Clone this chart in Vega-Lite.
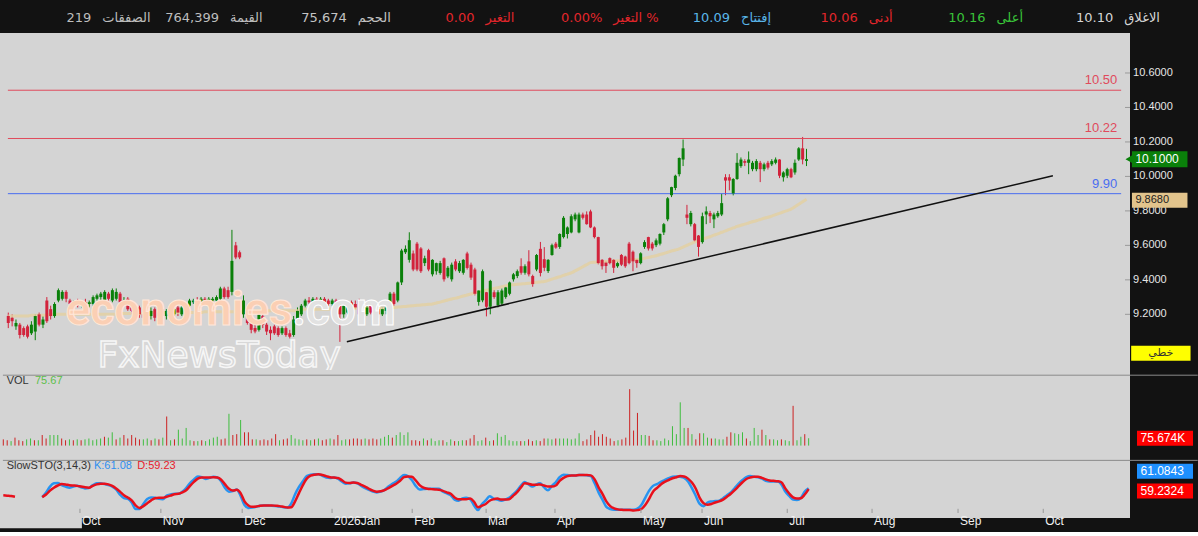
{
"$schema": "https://vega.github.io/schema/vega-lite/v6.json",
"background": "#121212",
"padding": {"left": 0, "top": 0, "right": 0, "bottom": 3},
"spacing": 0,
"bounds": "flush",
"config": {"view": {"stroke": null}, "font": "Liberation Sans", "text": {"font": "Liberation Sans"}},
"resolve": {"scale": {"color": "independent"}},
"datasets": {
"one": [{}],
"header": [
{"item":"الصفقات","value":"219"},{"item":"القيمة","value":"764,399"},{"item":"الحجم","value":"75,674"},{"item":"التغير","value":"0.00"},{"item":"التغير %","value":"0.00%"},{"item":"إفتتاح","value":"10.09"},{"item":"أدنى","value":"10.06"},{"item":"أعلى","value":"10.16"},{"item":"الاغلاق","value":"10.10"}
],
"levels": [{"p":10.5,"lab":"10.50","kind":"r"},{"p":10.22,"lab":"10.22","kind":"r"},{"p":9.9,"lab":"9.90","kind":"b"}],
"yticks": [{"p":9.2},{"p":9.4},{"p":9.6},{"p":9.8},{"p":10.0},{"p":10.2},{"p":10.4},{"p":10.6}],
"months": [{"m":19.7,"lab":"Oct"},{"m":40.5,"lab":"Nov"},{"m":61.4,"lab":"Dec"},{"m":84.5,"lab":"2026Jan"},{"m":105.1,"lab":"Feb"},{"m":124.1,"lab":"Mar"},{"m":141.8,"lab":"Apr"},{"m":163.9,"lab":"May"},{"m":179.6,"lab":"Jun"},{"m":201.5,"lab":"Jul"},{"m":223.3,"lab":"Aug"},{"m":245.4,"lab":"Sep"},{"m":267.3,"lab":"Oct"}],
"trend": [{"i":87.8,"p":9.041},{"i":270.9,"p":10.004}],
"candles": [
{"i":0,"o":9.19,"h":9.21,"l":9.12,"c":9.15,"v":64,"ma":9.19,"k":null,"d":42},
{"i":1,"o":9.18,"h":9.2,"l":9.13,"c":9.16,"v":55,"ma":9.19,"k":null,"d":41},
{"i":2,"o":9.13,"h":9.17,"l":9.11,"c":9.15,"v":46,"ma":9.19,"k":null,"d":40},
{"i":3,"o":9.14,"h":9.15,"l":9.06,"c":9.08,"v":82,"ma":9.19,"k":null,"d":38},
{"i":4,"o":9.12,"h":9.13,"l":9.07,"c":9.08,"v":55,"ma":9.19,"k":null,"d":null},
{"i":5,"o":9.13,"h":9.14,"l":9.06,"c":9.07,"v":46,"ma":9.19,"k":null,"d":null},
{"i":6,"o":9.09,"h":9.16,"l":9.08,"c":9.14,"v":64,"ma":9.195,"k":null,"d":null},
{"i":7,"o":9.1,"h":9.2,"l":9.05,"c":9.19,"v":73,"ma":9.195,"k":null,"d":null},
{"i":8,"o":9.2,"h":9.21,"l":9.13,"c":9.14,"v":55,"ma":9.195,"k":null,"d":null},
{"i":9,"o":9.14,"h":9.19,"l":9.12,"c":9.17,"v":55,"ma":9.195,"k":null,"d":null},
{"i":10,"o":9.28,"h":9.3,"l":9.15,"c":9.16,"v":109,"ma":9.195,"k":37,"d":37},
{"i":11,"o":9.23,"h":9.25,"l":9.17,"c":9.19,"v":73,"ma":9.2,"k":50,"d":44},
{"i":12,"o":9.19,"h":9.27,"l":9.18,"c":9.26,"v":109,"ma":9.2,"k":66,"d":55},
{"i":13,"o":9.28,"h":9.35,"l":9.27,"c":9.34,"v":109,"ma":9.2,"k":75,"d":63},
{"i":14,"o":9.29,"h":9.34,"l":9.28,"c":9.33,"v":109,"ma":9.2,"k":76,"d":69},
{"i":15,"o":9.33,"h":9.34,"l":9.27,"c":9.29,"v":73,"ma":9.2,"k":70,"d":73},
{"i":16,"o":9.28,"h":9.29,"l":9.25,"c":9.26,"v":55,"ma":9.2,"k":66,"d":72},
{"i":17,"o":9.26,"h":9.28,"l":9.24,"c":9.27,"v":64,"ma":9.2,"k":63,"d":70},
{"i":18,"o":9.28,"h":9.29,"l":9.24,"c":9.25,"v":55,"ma":9.2,"k":66,"d":69},
{"i":19,"o":9.25,"h":9.28,"l":9.24,"c":9.27,"v":64,"ma":9.2,"k":68,"d":68},
{"i":20,"o":9.27,"h":9.29,"l":9.25,"c":9.26,"v":55,"ma":9.2,"k":64,"d":66},
{"i":21,"o":9.26,"h":9.28,"l":9.24,"c":9.27,"v":64,"ma":9.2,"k":61,"d":64},
{"i":22,"o":9.26,"h":9.31,"l":9.25,"c":9.3,"v":73,"ma":9.2,"k":62,"d":63},
{"i":23,"o":9.29,"h":9.32,"l":9.28,"c":9.31,"v":55,"ma":9.2,"k":70,"d":68},
{"i":24,"o":9.3,"h":9.33,"l":9.28,"c":9.32,"v":64,"ma":9.2,"k":75,"d":72},
{"i":25,"o":9.28,"h":9.34,"l":9.27,"c":9.33,"v":73,"ma":9.2,"k":75,"d":74},
{"i":26,"o":9.32,"h":9.33,"l":9.28,"c":9.29,"v":91,"ma":9.2,"k":73,"d":74},
{"i":27,"o":9.28,"h":9.35,"l":9.27,"c":9.34,"v":82,"ma":9.2,"k":70,"d":72},
{"i":28,"o":9.29,"h":9.35,"l":9.28,"c":9.33,"v":137,"ma":9.2,"k":66,"d":68},
{"i":29,"o":9.32,"h":9.33,"l":9.26,"c":9.27,"v":64,"ma":9.205,"k":58,"d":61},
{"i":30,"o":9.27,"h":9.3,"l":9.25,"c":9.28,"v":82,"ma":9.205,"k":44,"d":52},
{"i":31,"o":9.29,"h":9.3,"l":9.22,"c":9.23,"v":109,"ma":9.205,"k":34,"d":42},
{"i":32,"o":9.24,"h":9.26,"l":9.2,"c":9.22,"v":73,"ma":9.205,"k":32,"d":36},
{"i":33,"o":9.23,"h":9.24,"l":9.18,"c":9.19,"v":109,"ma":9.205,"k":22,"d":28},
{"i":34,"o":9.24,"h":9.25,"l":9.18,"c":9.2,"v":82,"ma":9.205,"k":4,"d":14},
{"i":35,"o":9.2,"h":9.23,"l":9.16,"c":9.18,"v":64,"ma":9.205,"k":4,"d":7},
{"i":36,"o":9.18,"h":9.24,"l":9.17,"c":9.23,"v":64,"ma":9.205,"k":18,"d":12},
{"i":37,"o":9.19,"h":9.24,"l":9.17,"c":9.22,"v":73,"ma":9.21,"k":32,"d":20},
{"i":38,"o":9.23,"h":9.24,"l":9.16,"c":9.18,"v":55,"ma":9.21,"k":36,"d":28},
{"i":39,"o":9.19,"h":9.23,"l":9.18,"c":9.21,"v":73,"ma":9.21,"k":35,"d":34},
{"i":40,"o":9.23,"h":9.24,"l":9.18,"c":9.19,"v":64,"ma":9.21,"k":32,"d":35},
{"i":41,"o":9.19,"h":9.23,"l":9.17,"c":9.22,"v":82,"ma":9.21,"k":31,"d":35},
{"i":42,"o":9.24,"h":9.25,"l":9.16,"c":9.2,"v":300,"ma":9.21,"k":41,"d":38},
{"i":43,"o":9.2,"h":9.24,"l":9.19,"c":9.23,"v":55,"ma":9.21,"k":44,"d":41},
{"i":44,"o":9.24,"h":9.25,"l":9.19,"c":9.21,"v":64,"ma":9.21,"k":46,"d":45},
{"i":45,"o":9.2,"h":9.25,"l":9.19,"c":9.24,"v":164,"ma":9.21,"k":46,"d":46},
{"i":46,"o":9.23,"h":9.26,"l":9.22,"c":9.25,"v":73,"ma":9.21,"k":52,"d":50},
{"i":47,"o":9.25,"h":9.29,"l":9.24,"c":9.28,"v":182,"ma":9.21,"k":62,"d":56},
{"i":48,"o":9.27,"h":9.29,"l":9.26,"c":9.28,"v":55,"ma":9.21,"k":76,"d":68},
{"i":49,"o":9.28,"h":9.3,"l":9.26,"c":9.27,"v":46,"ma":9.21,"k":86,"d":79},
{"i":50,"o":9.27,"h":9.3,"l":9.26,"c":9.29,"v":46,"ma":9.21,"k":94,"d":88},
{"i":51,"o":9.29,"h":9.3,"l":9.26,"c":9.28,"v":55,"ma":9.215,"k":92,"d":91},
{"i":52,"o":9.27,"h":9.3,"l":9.26,"c":9.29,"v":46,"ma":9.215,"k":87,"d":91},
{"i":53,"o":9.28,"h":9.3,"l":9.27,"c":9.29,"v":64,"ma":9.215,"k":90,"d":91},
{"i":54,"o":9.28,"h":9.31,"l":9.27,"c":9.3,"v":82,"ma":9.215,"k":93,"d":92},
{"i":55,"o":9.29,"h":9.36,"l":9.28,"c":9.35,"v":91,"ma":9.215,"k":91,"d":91},
{"i":56,"o":9.35,"h":9.36,"l":9.29,"c":9.3,"v":64,"ma":9.215,"k":81,"d":85},
{"i":57,"o":9.34,"h":9.36,"l":9.29,"c":9.3,"v":73,"ma":9.215,"k":62,"d":72},
{"i":58,"o":9.33,"h":9.69,"l":9.31,"c":9.51,"v":328,"ma":9.215,"k":52,"d":60},
{"i":59,"o":9.6,"h":9.62,"l":9.52,"c":9.53,"v":109,"ma":9.215,"k":54,"d":55},
{"i":60,"o":9.56,"h":9.57,"l":9.52,"c":9.53,"v":118,"ma":9.215,"k":58,"d":57},
{"i":61,"o":9.2,"h":9.31,"l":9.18,"c":9.28,"v":264,"ma":9.215,"k":40,"d":48},
{"i":62,"o":9.22,"h":9.23,"l":9.14,"c":9.15,"v":137,"ma":9.215,"k":15,"d":25},
{"i":63,"o":9.16,"h":9.17,"l":9.09,"c":9.11,"v":137,"ma":9.215,"k":7,"d":14},
{"i":64,"o":9.12,"h":9.15,"l":9.09,"c":9.1,"v":64,"ma":9.22,"k":8,"d":10},
{"i":65,"o":9.11,"h":9.22,"l":9.1,"c":9.2,"v":64,"ma":9.22,"k":10,"d":11},
{"i":66,"o":9.19,"h":9.2,"l":9.12,"c":9.14,"v":55,"ma":9.22,"k":13,"d":13},
{"i":67,"o":9.14,"h":9.15,"l":9.08,"c":9.1,"v":64,"ma":9.22,"k":14,"d":14},
{"i":68,"o":9.11,"h":9.13,"l":9.05,"c":9.09,"v":55,"ma":9.22,"k":14,"d":14},
{"i":69,"o":9.13,"h":9.14,"l":9.08,"c":9.09,"v":73,"ma":9.22,"k":13,"d":14},
{"i":70,"o":9.12,"h":9.13,"l":9.07,"c":9.08,"v":118,"ma":9.22,"k":12,"d":13},
{"i":71,"o":9.09,"h":9.13,"l":9.08,"c":9.12,"v":55,"ma":9.22,"k":11,"d":12},
{"i":72,"o":9.12,"h":9.13,"l":9.07,"c":9.08,"v":64,"ma":9.22,"k":9,"d":10},
{"i":73,"o":9.09,"h":9.11,"l":9.06,"c":9.07,"v":73,"ma":9.22,"k":8,"d":8},
{"i":74,"o":9.08,"h":9.19,"l":9.07,"c":9.17,"v":109,"ma":9.22,"k":19,"d":9},
{"i":75,"o":9.16,"h":9.24,"l":9.14,"c":9.22,"v":73,"ma":9.22,"k":45,"d":25},
{"i":76,"o":9.2,"h":9.26,"l":9.19,"c":9.25,"v":64,"ma":9.23,"k":65,"d":48},
{"i":77,"o":9.25,"h":9.29,"l":9.24,"c":9.28,"v":55,"ma":9.23,"k":81,"d":70},
{"i":78,"o":9.28,"h":9.3,"l":9.26,"c":9.27,"v":64,"ma":9.23,"k":95,"d":88},
{"i":79,"o":9.27,"h":9.3,"l":9.26,"c":9.29,"v":55,"ma":9.23,"k":99,"d":96},
{"i":80,"o":9.29,"h":9.3,"l":9.26,"c":9.27,"v":64,"ma":9.23,"k":100,"d":99},
{"i":81,"o":9.28,"h":9.3,"l":9.27,"c":9.29,"v":73,"ma":9.23,"k":100,"d":100},
{"i":82,"o":9.29,"h":9.3,"l":9.26,"c":9.27,"v":55,"ma":9.23,"k":96,"d":98},
{"i":83,"o":9.28,"h":9.29,"l":9.25,"c":9.26,"v":64,"ma":9.23,"k":91,"d":95},
{"i":84,"o":9.26,"h":9.29,"l":9.25,"c":9.28,"v":73,"ma":9.23,"k":90,"d":92},
{"i":85,"o":9.28,"h":9.29,"l":9.24,"c":9.25,"v":64,"ma":9.23,"k":91,"d":91},
{"i":86,"o":9.26,"h":9.27,"l":9.04,"c":9.2,"v":109,"ma":9.23,"k":88,"d":90},
{"i":87,"o":9.2,"h":9.26,"l":9.18,"c":9.25,"v":55,"ma":9.23,"k":80,"d":84},
{"i":88,"o":9.21,"h":9.26,"l":9.2,"c":9.25,"v":64,"ma":9.23,"k":74,"d":77},
{"i":89,"o":9.27,"h":9.28,"l":9.22,"c":9.24,"v":64,"ma":9.235,"k":75,"d":76},
{"i":90,"o":9.26,"h":9.28,"l":9.23,"c":9.24,"v":73,"ma":9.235,"k":77,"d":77},
{"i":91,"o":9.28,"h":9.29,"l":9.17,"c":9.2,"v":73,"ma":9.235,"k":75,"d":76},
{"i":92,"o":9.24,"h":9.26,"l":9.16,"c":9.18,"v":64,"ma":9.235,"k":68,"d":71},
{"i":93,"o":9.2,"h":9.25,"l":9.19,"c":9.24,"v":73,"ma":9.235,"k":62,"d":66},
{"i":94,"o":9.25,"h":9.26,"l":9.2,"c":9.21,"v":64,"ma":9.235,"k":57,"d":60},
{"i":95,"o":9.22,"h":9.24,"l":9.18,"c":9.19,"v":73,"ma":9.235,"k":52,"d":55},
{"i":96,"o":9.23,"h":9.24,"l":9.18,"c":9.2,"v":64,"ma":9.235,"k":50,"d":52},
{"i":97,"o":9.2,"h":9.24,"l":9.19,"c":9.23,"v":73,"ma":9.235,"k":52,"d":53},
{"i":98,"o":9.22,"h":9.25,"l":9.2,"c":9.24,"v":91,"ma":9.235,"k":57,"d":56},
{"i":99,"o":9.27,"h":9.33,"l":9.26,"c":9.32,"v":109,"ma":9.235,"k":66,"d":62},
{"i":100,"o":9.32,"h":9.33,"l":9.25,"c":9.26,"v":82,"ma":9.24,"k":74,"d":68},
{"i":101,"o":9.28,"h":9.39,"l":9.27,"c":9.385,"v":109,"ma":9.242,"k":80,"d":74},
{"i":102,"o":9.385,"h":9.58,"l":9.37,"c":9.57,"v":137,"ma":9.244,"k":90,"d":82},
{"i":103,"o":9.56,"h":9.6,"l":9.55,"c":9.58,"v":109,"ma":9.246,"k":98,"d":92},
{"i":104,"o":9.516,"h":9.676,"l":9.5,"c":9.63,"v":137,"ma":9.248,"k":95,"d":94},
{"i":105,"o":9.553,"h":9.57,"l":9.45,"c":9.46,"v":55,"ma":9.25,"k":84,"d":93},
{"i":106,"o":9.61,"h":9.62,"l":9.45,"c":9.46,"v":55,"ma":9.252,"k":68,"d":83},
{"i":107,"o":9.582,"h":9.59,"l":9.44,"c":9.45,"v":46,"ma":9.254,"k":58,"d":70},
{"i":108,"o":9.497,"h":9.54,"l":9.48,"c":9.525,"v":73,"ma":9.256,"k":59,"d":63},
{"i":109,"o":9.572,"h":9.58,"l":9.45,"c":9.46,"v":55,"ma":9.258,"k":60,"d":60},
{"i":110,"o":9.432,"h":9.52,"l":9.42,"c":9.516,"v":73,"ma":9.26,"k":60,"d":59},
{"i":111,"o":9.45,"h":9.5,"l":9.43,"c":9.497,"v":46,"ma":9.266,"k":60,"d":58},
{"i":112,"o":9.44,"h":9.51,"l":9.43,"c":9.497,"v":55,"ma":9.271,"k":60,"d":57},
{"i":113,"o":9.525,"h":9.53,"l":9.39,"c":9.403,"v":55,"ma":9.277,"k":52,"d":54},
{"i":114,"o":9.42,"h":9.48,"l":9.41,"c":9.47,"v":36,"ma":9.283,"k":47,"d":50},
{"i":115,"o":9.403,"h":9.5,"l":9.39,"c":9.488,"v":64,"ma":9.289,"k":42,"d":46},
{"i":116,"o":9.507,"h":9.52,"l":9.45,"c":9.46,"v":46,"ma":9.294,"k":30,"d":36},
{"i":117,"o":9.45,"h":9.51,"l":9.44,"c":9.497,"v":46,"ma":9.3,"k":27,"d":31},
{"i":118,"o":9.441,"h":9.52,"l":9.43,"c":9.516,"v":55,"ma":9.306,"k":33,"d":31},
{"i":119,"o":9.553,"h":9.563,"l":9.46,"c":9.469,"v":55,"ma":9.312,"k":35,"d":31},
{"i":120,"o":9.488,"h":9.5,"l":9.4,"c":9.413,"v":73,"ma":9.318,"k":31,"d":33},
{"i":121,"o":9.46,"h":9.47,"l":9.31,"c":9.319,"v":109,"ma":9.324,"k":14,"d":24},
{"i":122,"o":9.272,"h":9.34,"l":9.25,"c":9.338,"v":46,"ma":9.33,"k":1,"d":9},
{"i":123,"o":9.281,"h":9.46,"l":9.27,"c":9.45,"v":55,"ma":9.335,"k":17,"d":13},
{"i":124,"o":9.328,"h":9.33,"l":9.188,"c":9.244,"v":82,"ma":9.34,"k":28,"d":18},
{"i":125,"o":9.244,"h":9.4,"l":9.2,"c":9.394,"v":46,"ma":9.345,"k":39,"d":27},
{"i":126,"o":9.328,"h":9.34,"l":9.29,"c":9.3,"v":55,"ma":9.35,"k":33,"d":31},
{"i":127,"o":9.253,"h":9.34,"l":9.24,"c":9.328,"v":127,"ma":9.355,"k":30,"d":33},
{"i":128,"o":9.262,"h":9.35,"l":9.25,"c":9.338,"v":91,"ma":9.36,"k":27,"d":30},
{"i":129,"o":9.3,"h":9.36,"l":9.29,"c":9.356,"v":109,"ma":9.365,"k":30,"d":30},
{"i":130,"o":9.319,"h":9.39,"l":9.31,"c":9.385,"v":55,"ma":9.37,"k":35,"d":31},
{"i":131,"o":9.403,"h":9.44,"l":9.39,"c":9.432,"v":46,"ma":9.372,"k":44,"d":40},
{"i":132,"o":9.422,"h":9.46,"l":9.41,"c":9.45,"v":46,"ma":9.374,"k":54,"d":50},
{"i":133,"o":9.479,"h":9.525,"l":9.43,"c":9.441,"v":46,"ma":9.376,"k":68,"d":63},
{"i":134,"o":9.441,"h":9.49,"l":9.43,"c":9.479,"v":46,"ma":9.378,"k":79,"d":75},
{"i":135,"o":9.507,"h":9.572,"l":9.42,"c":9.432,"v":64,"ma":9.38,"k":72,"d":74},
{"i":136,"o":9.422,"h":9.43,"l":9.36,"c":9.375,"v":46,"ma":9.383,"k":66,"d":71},
{"i":137,"o":9.46,"h":9.55,"l":9.45,"c":9.544,"v":55,"ma":9.386,"k":72,"d":71},
{"i":138,"o":9.58,"h":9.62,"l":9.42,"c":9.44,"v":46,"ma":9.388,"k":75,"d":72},
{"i":139,"o":9.52,"h":9.59,"l":9.45,"c":9.47,"v":73,"ma":9.39,"k":64,"d":69},
{"i":140,"o":9.451,"h":9.52,"l":9.44,"c":9.516,"v":73,"ma":9.397,"k":56,"d":66},
{"i":141,"o":9.544,"h":9.61,"l":9.54,"c":9.601,"v":64,"ma":9.404,"k":68,"d":66},
{"i":142,"o":9.61,"h":9.62,"l":9.58,"c":9.587,"v":73,"ma":9.411,"k":78,"d":69},
{"i":143,"o":9.591,"h":9.67,"l":9.58,"c":9.666,"v":73,"ma":9.418,"k":92,"d":82},
{"i":144,"o":9.648,"h":9.77,"l":9.64,"c":9.76,"v":73,"ma":9.426,"k":99,"d":90},
{"i":145,"o":9.666,"h":9.71,"l":9.64,"c":9.704,"v":73,"ma":9.433,"k":98,"d":95},
{"i":146,"o":9.675,"h":9.78,"l":9.67,"c":9.769,"v":64,"ma":9.44,"k":97,"d":97},
{"i":147,"o":9.751,"h":9.79,"l":9.74,"c":9.779,"v":73,"ma":9.452,"k":97,"d":97},
{"i":148,"o":9.675,"h":9.79,"l":9.67,"c":9.779,"v":127,"ma":9.464,"k":98,"d":98},
{"i":149,"o":9.779,"h":9.79,"l":9.75,"c":9.76,"v":46,"ma":9.476,"k":98,"d":98},
{"i":150,"o":9.779,"h":9.797,"l":9.72,"c":9.723,"v":64,"ma":9.488,"k":97,"d":98},
{"i":151,"o":9.797,"h":9.807,"l":9.7,"c":9.704,"v":109,"ma":9.5,"k":95,"d":97},
{"i":152,"o":9.704,"h":9.71,"l":9.64,"c":9.648,"v":155,"ma":9.502,"k":75,"d":86},
{"i":153,"o":9.648,"h":9.65,"l":9.49,"c":9.497,"v":91,"ma":9.503,"k":50,"d":64},
{"i":154,"o":9.516,"h":9.52,"l":9.46,"c":9.479,"v":118,"ma":9.505,"k":30,"d":46},
{"i":155,"o":9.5,"h":9.51,"l":9.44,"c":9.48,"v":91,"ma":9.506,"k":10,"d":25},
{"i":156,"o":9.526,"h":9.53,"l":9.49,"c":9.497,"v":73,"ma":9.508,"k":4,"d":12},
{"i":157,"o":9.516,"h":9.52,"l":9.44,"c":9.47,"v":46,"ma":9.509,"k":2,"d":6},
{"i":158,"o":9.479,"h":9.51,"l":9.47,"c":9.497,"v":55,"ma":9.511,"k":2,"d":3},
{"i":159,"o":9.544,"h":9.55,"l":9.48,"c":9.488,"v":64,"ma":9.512,"k":2,"d":2},
{"i":160,"o":9.535,"h":9.54,"l":9.47,"c":9.479,"v":82,"ma":9.514,"k":2,"d":1},
{"i":161,"o":9.61,"h":9.62,"l":9.49,"c":9.497,"v":582,"ma":9.515,"k":2,"d":1},
{"i":162,"o":9.563,"h":9.57,"l":9.45,"c":9.507,"v":155,"ma":9.517,"k":2,"d":0},
{"i":163,"o":9.516,"h":9.52,"l":9.47,"c":9.497,"v":337,"ma":9.518,"k":5,"d":1},
{"i":164,"o":9.497,"h":9.56,"l":9.49,"c":9.554,"v":109,"ma":9.52,"k":15,"d":4},
{"i":165,"o":9.591,"h":9.63,"l":9.58,"c":9.619,"v":109,"ma":9.525,"k":35,"d":15},
{"i":166,"o":9.648,"h":9.65,"l":9.57,"c":9.582,"v":100,"ma":9.53,"k":55,"d":32},
{"i":167,"o":9.61,"h":9.62,"l":9.57,"c":9.582,"v":55,"ma":9.535,"k":68,"d":52},
{"i":168,"o":9.601,"h":9.64,"l":9.59,"c":9.629,"v":55,"ma":9.54,"k":73,"d":62},
{"i":169,"o":9.61,"h":9.67,"l":9.6,"c":9.666,"v":46,"ma":9.547,"k":79,"d":72},
{"i":170,"o":9.675,"h":9.73,"l":9.66,"c":9.723,"v":73,"ma":9.553,"k":84,"d":79},
{"i":171,"o":9.751,"h":9.88,"l":9.74,"c":9.873,"v":55,"ma":9.56,"k":89,"d":84},
{"i":172,"o":9.891,"h":9.94,"l":9.88,"c":9.938,"v":200,"ma":9.567,"k":93,"d":89},
{"i":173,"o":9.933,"h":10.01,"l":9.92,"c":10.004,"v":118,"ma":9.573,"k":94,"d":92},
{"i":174,"o":10.013,"h":10.11,"l":10,"c":10.107,"v":446,"ma":9.58,"k":93,"d":95},
{"i":175,"o":10.098,"h":10.214,"l":10.06,"c":10.163,"v":182,"ma":9.59,"k":90,"d":94},
{"i":176,"o":9.779,"h":9.835,"l":9.723,"c":9.76,"v":182,"ma":9.6,"k":80,"d":88},
{"i":177,"o":9.723,"h":9.8,"l":9.71,"c":9.788,"v":118,"ma":9.61,"k":62,"d":77},
{"i":178,"o":9.723,"h":9.73,"l":9.62,"c":9.629,"v":64,"ma":9.62,"k":40,"d":60},
{"i":179,"o":9.657,"h":9.66,"l":9.535,"c":9.591,"v":127,"ma":9.628,"k":18,"d":35},
{"i":180,"o":9.619,"h":9.79,"l":9.61,"c":9.769,"v":127,"ma":9.635,"k":12,"d":20},
{"i":181,"o":9.779,"h":9.826,"l":9.723,"c":9.797,"v":82,"ma":9.643,"k":22,"d":16},
{"i":182,"o":9.788,"h":9.8,"l":9.73,"c":9.769,"v":73,"ma":9.65,"k":25,"d":18},
{"i":183,"o":9.751,"h":9.79,"l":9.7,"c":9.779,"v":73,"ma":9.659,"k":26,"d":22},
{"i":184,"o":9.769,"h":9.8,"l":9.76,"c":9.788,"v":64,"ma":9.667,"k":27,"d":25},
{"i":185,"o":9.779,"h":9.9,"l":9.77,"c":9.845,"v":64,"ma":9.676,"k":34,"d":30},
{"i":186,"o":9.995,"h":10.013,"l":9.891,"c":9.976,"v":91,"ma":9.684,"k":42,"d":38},
{"i":187,"o":9.995,"h":10.013,"l":9.919,"c":9.976,"v":137,"ma":9.693,"k":50,"d":46},
{"i":188,"o":9.901,"h":9.99,"l":9.89,"c":9.985,"v":127,"ma":9.701,"k":62,"d":56},
{"i":189,"o":9.985,"h":10.135,"l":9.98,"c":10.079,"v":118,"ma":9.71,"k":74,"d":67},
{"i":190,"o":10.06,"h":10.11,"l":10.05,"c":10.098,"v":137,"ma":9.717,"k":84,"d":78},
{"i":191,"o":10.089,"h":10.1,"l":10.06,"c":10.079,"v":73,"ma":9.723,"k":92,"d":87},
{"i":192,"o":10.079,"h":10.145,"l":10.013,"c":10.098,"v":46,"ma":9.73,"k":95,"d":91},
{"i":193,"o":10.042,"h":10.09,"l":10.03,"c":10.079,"v":182,"ma":9.737,"k":93,"d":93},
{"i":194,"o":10.042,"h":10.1,"l":10.03,"c":10.089,"v":109,"ma":9.743,"k":92,"d":93},
{"i":195,"o":10.079,"h":10.09,"l":9.967,"c":10.042,"v":164,"ma":9.75,"k":88,"d":90},
{"i":196,"o":10.042,"h":10.08,"l":10.03,"c":10.07,"v":109,"ma":9.757,"k":82,"d":86},
{"i":197,"o":10.079,"h":10.09,"l":10.04,"c":10.051,"v":64,"ma":9.763,"k":80,"d":83},
{"i":198,"o":10.07,"h":10.1,"l":10.06,"c":10.089,"v":64,"ma":9.77,"k":80,"d":82},
{"i":199,"o":10.079,"h":10.11,"l":10.07,"c":10.098,"v":55,"ma":9.778,"k":80,"d":81},
{"i":200,"o":10.098,"h":10.1,"l":9.99,"c":10.004,"v":64,"ma":9.786,"k":72,"d":78},
{"i":201,"o":9.995,"h":10.03,"l":9.97,"c":10.023,"v":55,"ma":9.794,"k":52,"d":61},
{"i":202,"o":10.004,"h":10.05,"l":9.99,"c":10.042,"v":46,"ma":9.802,"k":40,"d":47},
{"i":203,"o":10.042,"h":10.05,"l":9.99,"c":9.995,"v":410,"ma":9.81,"k":30,"d":36},
{"i":204,"o":10.023,"h":10.098,"l":10.01,"c":10.079,"v":55,"ma":9.824,"k":29,"d":33},
{"i":205,"o":10.098,"h":10.17,"l":10.09,"c":10.163,"v":91,"ma":9.839,"k":35,"d":34},
{"i":206,"o":10.163,"h":10.229,"l":10.07,"c":10.098,"v":118,"ma":9.853,"k":52,"d":44},
{"i":207,"o":10.09,"h":10.16,"l":10.06,"c":10.1,"v":75.674,"ma":9.868,"k":61.08,"d":59.23}
]
},
"vconcat": [
{
"width": 1198, "height": 33,
"view": {"fill": "#121212", "stroke": null},
"data": {"name": "header"},
"encoding": {
"x": {"field": "item", "type": "nominal", "scale": {"type": "point", "domain": ["الصفقات","القيمة","الحجم","التغير","التغير %","إفتتاح","أدنى","أعلى","الاغلاق"], "padding": 0.689, "align": 0.55}, "axis": null},
"color": {"field": "item", "type": "nominal", "scale": {"domain": ["الصفقات","القيمة","الحجم","التغير","التغير %","إفتتاح","أدنى","أعلى","الاغلاق"], "range": ["#bdbdbd","#bdbdbd","#c4c4c4","#e3262b","#e3262b","#5ab6ea","#e3262b","#39c439","#d6d6d6"]}, "legend": null}
},
"layer": [
{"mark": {"type": "text", "align": "right", "baseline": "middle", "dx": -5.5, "dy": 1, "font": "DejaVu Sans", "fontSize": 13}, "encoding": {"text": {"field": "value"}}},
{"mark": {"type": "text", "align": "left", "baseline": "middle", "dx": 5.5, "dy": 1, "font": "DejaVu Sans", "fontSize": 13}, "encoding": {"text": {"field": "item"}}}
]
},
{
"width": 1130, "height": 337,
"view": {"fill": "#d4d4d4", "stroke": null},
"layer": [
{"data": {"name": "candles"}, "mark": {"type": "rule", "strokeWidth": 1},
 "encoding": {
 "x": {"field": "i", "type": "quantitative", "scale": {"domain": [-0.848, 289.6], "nice": false, "zero": false}, "axis": null},
 "y": {"field": "l", "type": "quantitative", "scale": {"domain": [8.906, 10.803], "nice": false, "zero": false}, "axis": null},
 "y2": {"field": "h"},
 "color": {"condition": {"test": "datum.c >= datum.o", "value": "#0a800a"}, "value": "#d2233c"}}},
{"data": {"name": "yticks"}, "mark": {"type": "rule", "color": "#9a9a9a", "strokeWidth": 1},
 "encoding": {
 "x": {"datum": 289.6, "type": "quantitative", "axis": null},
 "x2": {"datum": 290.9},
 "y": {"field": "p", "type": "quantitative", "axis": null}}},
{"data": {"name": "yticks"}, "mark": {"type": "text", "align": "left", "baseline": "middle", "color": "#e6e6e6", "fontSize": 11},
 "encoding": {
 "x": {"datum": 291.7, "type": "quantitative", "axis": null},
 "y": {"field": "p", "type": "quantitative", "axis": null},
 "text": {"field": "p", "type": "quantitative", "format": ".4f"}}},
{"data": {"name": "levels"}, "mark": {"type": "rule", "strokeWidth": 1},
 "encoding": {
 "x": {"datum": -0.1, "type": "quantitative", "axis": null},
 "x2": {"datum": 288.6},
 "y": {"field": "p", "type": "quantitative", "axis": null},
 "color": {"field": "kind", "type": "nominal", "scale": {"domain": ["r","b"], "range": ["#e04a5c","#4a6ef0"]}, "legend": null}}},
{"data": {"name": "levels"}, "mark": {"type": "text", "align": "right", "baseline": "alphabetic", "dy": -6, "fontSize": 13, "font": "Liberation Sans"},
 "encoding": {
 "x": {"datum": 287.6, "type": "quantitative", "axis": null},
 "y": {"field": "p", "type": "quantitative", "axis": null},
 "text": {"field": "lab"},
 "color": {"field": "kind", "type": "nominal", "scale": {"domain": ["r","b"], "range": ["#e04a5c","#4a6ef0"]}, "legend": null}}},
{"data": {"name": "trend"}, "mark": {"type": "line", "color": "#111111", "strokeWidth": 1.5, "strokeJoin": "round"},
 "encoding": {
 "x": {"field": "i", "type": "quantitative", "axis": null},
 "y": {"field": "p", "type": "quantitative", "axis": null}}},
{"data": {"name": "candles"}, "mark": {"type": "line", "color": "#e3cf9f", "strokeWidth": 3, "opacity": 0.8, "interpolate": "monotone", "strokeJoin": "round"},
 "encoding": {
 "x": {"field": "i", "type": "quantitative", "axis": null},
 "y": {"field": "ma", "type": "quantitative", "axis": null}}},
{"data": {"name": "candles"}, "mark": {"type": "bar", "size": 3},
 "encoding": {
 "x": {"field": "i", "type": "quantitative", "axis": null},
 "y": {"field": "o", "type": "quantitative", "axis": null},
 "y2": {"field": "c"},
 "color": {"condition": {"test": "datum.c >= datum.o", "value": "#0a800a"}, "value": "#d2233c"}}},
{"data": {"name": "one"}, "mark": {"type": "text", "text": "economies", "align": "right", "baseline": "alphabetic", "font": "Roboto", "fontWeight": "bold", "fontSize": 46, "fill": "#fbcfb4", "stroke": "#ffe8da", "strokeWidth": 1},
 "encoding": {
 "x": {"datum": 73.7, "type": "quantitative", "axis": null},
 "y": {"datum": 9.136, "type": "quantitative", "axis": null}}},
{"data": {"name": "one"}, "mark": {"type": "text", "text": ".com", "align": "left", "baseline": "alphabetic", "font": "Roboto", "fontWeight": "bold", "fontSize": 46, "fill": "#e2e2e2", "stroke": "#ffffff", "strokeWidth": 1},
 "encoding": {
 "x": {"datum": 73.7, "type": "quantitative", "axis": null},
 "y": {"datum": 9.136, "type": "quantitative", "axis": null}}},
{"data": {"name": "one"}, "mark": {"type": "text", "text": "FxNewsToday", "align": "center", "baseline": "alphabetic", "font": "DejaVu Sans", "fontSize": 36, "fill": "#d8d8d8", "stroke": "#f6f6f6", "strokeWidth": 1.5},
 "encoding": {
 "x": {"datum": 54.7, "type": "quantitative", "axis": null},
 "y": {"datum": 8.895, "type": "quantitative", "axis": null}}},
{"data": {"name": "one"}, "mark": {"type": "point", "shape": "triangle-left", "filled": true, "color": "#0a800a", "opacity": 1, "size": 60},
 "encoding": {
 "x": {"datum": 290.6, "type": "quantitative", "axis": null},
 "y": {"datum": 10.1, "type": "quantitative", "axis": null}}},
{"data": {"name": "one"}, "mark": {"type": "bar", "color": "#0a800a", "size": 16},
 "encoding": {
 "x": {"datum": 291.4, "type": "quantitative", "axis": null},
 "x2": {"datum": 305.8},
 "y": {"datum": 10.1, "type": "quantitative", "axis": null}}},
{"data": {"name": "one"}, "mark": {"type": "text", "text": "10.1000", "align": "left", "baseline": "middle", "color": "#ffffff", "fontSize": 12},
 "encoding": {
 "x": {"datum": 292.3, "type": "quantitative", "axis": null},
 "y": {"datum": 10.1, "type": "quantitative", "axis": null}}},
{"data": {"name": "one"}, "mark": {"type": "bar", "color": "#e2c48c", "size": 15, "yOffset": 1},
 "encoding": {
 "x": {"datum": 291.4, "type": "quantitative", "axis": null},
 "x2": {"datum": 305.8},
 "y": {"datum": 9.868, "type": "quantitative", "axis": null}}},
{"data": {"name": "one"}, "mark": {"type": "text", "text": "9.8680", "align": "left", "baseline": "middle", "color": "#222222", "fontSize": 11, "yOffset": 1},
 "encoding": {
 "x": {"datum": 292.3, "type": "quantitative", "axis": null},
 "y": {"datum": 9.868, "type": "quantitative", "axis": null}}},
{"data": {"name": "one"}, "mark": {"type": "bar", "color": "#ffff00", "size": 15},
 "encoding": {
 "x": {"datum": 291.2, "type": "quantitative", "axis": null},
 "x2": {"datum": 306.6},
 "y": {"datum": 8.9745, "type": "quantitative", "axis": null}}},
{"data": {"name": "one"}, "mark": {"type": "text", "text": "خطي", "align": "center", "baseline": "middle", "color": "#333333", "fontSize": 11, "font": "DejaVu Sans"},
 "encoding": {
 "x": {"datum": 298.9, "type": "quantitative", "axis": null},
 "y": {"datum": 8.9745, "type": "quantitative", "axis": null}}}
]
},
{
"width": 1130, "height": 85,
"view": {"fill": "#d4d4d4", "stroke": null},
"layer": [
{"data": {"name": "candles"}, "mark": {"type": "rule", "strokeWidth": 1},
 "encoding": {
 "x": {"field": "i", "type": "quantitative", "scale": {"domain": [-0.848, 289.6], "nice": false, "zero": false}, "axis": null},
 "y": {"field": "v", "type": "quantitative", "scale": {"domain": [-45.5, 728], "nice": false, "zero": false}, "axis": null},
 "y2": {"datum": 0},
 "color": {"condition": {"test": "datum.c >= datum.o", "value": "#3fbd3f"}, "value": "#cc2222"}}},
{"data": {"name": "one"}, "mark": {"type": "rule", "color": "#8a8a8a", "strokeWidth": 1},
 "encoding": {
 "x": {"datum": -0.1, "type": "quantitative", "axis": null},
 "x2": {"datum": 307},
 "y": {"datum": 726, "type": "quantitative", "axis": null}}},
{"data": {"name": "one"}, "mark": {"type": "text", "text": "VOL", "align": "left", "baseline": "alphabetic", "color": "#333333", "fontSize": 11},
 "encoding": {
 "x": {"datum": 0.87, "type": "quantitative", "axis": null},
 "y": {"datum": 637, "type": "quantitative", "axis": null}}},
{"data": {"name": "one"}, "mark": {"type": "text", "text": "75.67", "align": "left", "baseline": "alphabetic", "color": "#5cbf4a", "fontSize": 11},
 "encoding": {
 "x": {"datum": 8.15, "type": "quantitative", "axis": null},
 "y": {"datum": 637, "type": "quantitative", "axis": null}}},
{"data": {"name": "one"}, "mark": {"type": "bar", "color": "#ff0000", "size": 15},
 "encoding": {
 "x": {"datum": 291.4, "type": "quantitative", "axis": null},
 "x2": {"datum": 305.8},
 "y": {"datum": 75.674, "type": "quantitative", "axis": null}}},
{"data": {"name": "one"}, "mark": {"type": "text", "text": "75.674K", "align": "left", "baseline": "middle", "color": "#ffffff", "fontSize": 12},
 "encoding": {
 "x": {"datum": 292.3, "type": "quantitative", "axis": null},
 "y": {"datum": 75.674, "type": "quantitative", "axis": null}}}
]
},
{
"width": 1130, "height": 63,
"view": {"fill": "#d4d4d4", "stroke": null},
"layer": [
{"data": {"name": "candles"}, "mark": {"type": "line", "color": "#2894f0", "strokeWidth": 2.5, "interpolate": "monotone", "strokeJoin": "round"},
 "encoding": {
 "x": {"field": "i", "type": "quantitative", "scale": {"domain": [-0.848, 289.6], "nice": false, "zero": false}, "axis": null},
 "y": {"field": "k", "type": "quantitative", "scale": {"domain": [-7, 139.5], "nice": false, "zero": false}, "axis": null}}},
{"data": {"name": "candles"}, "mark": {"type": "line", "color": "#e8101c", "strokeWidth": 2.5, "interpolate": "monotone", "strokeJoin": "round", "invalid": "break-paths-show-domains"},
 "encoding": {
 "x": {"field": "i", "type": "quantitative", "axis": null},
 "y": {"field": "d", "type": "quantitative", "axis": null}}},
{"data": {"name": "one"}, "mark": {"type": "bar", "color": "#d4d4d4"},
 "encoding": {
 "x": {"datum": -0.848, "type": "quantitative", "axis": null},
 "x2": {"datum": 20.2},
 "y": {"datum": -7, "type": "quantitative", "axis": null},
 "y2": {"datum": -48.9}}},
{"data": {"name": "months"}, "mark": {"type": "rule", "color": "#999999", "strokeWidth": 1},
 "encoding": {
 "x": {"field": "m", "type": "quantitative", "axis": null},
 "y": {"datum": -7, "type": "quantitative", "axis": null},
 "y2": {"datum": 4.6}}},
{"data": {"name": "months"}, "mark": {"type": "text", "align": "left", "baseline": "middle", "dx": 2, "color": "#f0f0f0", "fontSize": 12},
 "encoding": {
 "x": {"field": "m", "type": "quantitative", "axis": null},
 "y": {"datum": -27.9, "type": "quantitative", "axis": null},
 "text": {"field": "lab"}}},
{"data": {"name": "one"}, "mark": {"type": "rule", "color": "#8a8a8a", "strokeWidth": 1},
 "encoding": {
 "x": {"datum": -0.1, "type": "quantitative", "axis": null},
 "x2": {"datum": 307},
 "y": {"datum": 138.5, "type": "quantitative", "axis": null}}},
{"data": {"name": "one"}, "mark": {"type": "text", "text": "SlowSTO(3,14,3)", "align": "left", "baseline": "alphabetic", "color": "#333333", "fontSize": 11},
 "encoding": {
 "x": {"datum": 0.87, "type": "quantitative", "axis": null},
 "y": {"datum": 114, "type": "quantitative", "axis": null}}},
{"data": {"name": "one"}, "mark": {"type": "text", "text": "K:61.08", "align": "left", "baseline": "alphabetic", "color": "#2f8ff0", "fontSize": 11},
 "encoding": {
 "x": {"datum": 23.3, "type": "quantitative", "axis": null},
 "y": {"datum": 114, "type": "quantitative", "axis": null}}},
{"data": {"name": "one"}, "mark": {"type": "text", "text": "D:59.23", "align": "left", "baseline": "alphabetic", "color": "#e8202c", "fontSize": 11},
 "encoding": {
 "x": {"datum": 34.4, "type": "quantitative", "axis": null},
 "y": {"datum": 114, "type": "quantitative", "axis": null}}},
{"data": {"name": "one"}, "mark": {"type": "bar", "color": "#1e90ff", "size": 15, "yOffset": -17},
 "encoding": {
 "x": {"datum": 291.4, "type": "quantitative", "axis": null},
 "x2": {"datum": 305.8},
 "y": {"datum": 61.0843, "type": "quantitative", "axis": null}}},
{"data": {"name": "one"}, "mark": {"type": "text", "text": "61.0843", "align": "left", "baseline": "middle", "color": "#ffffff", "fontSize": 12, "yOffset": -17},
 "encoding": {
 "x": {"datum": 292.3, "type": "quantitative", "axis": null},
 "y": {"datum": 61.0843, "type": "quantitative", "axis": null}}},
{"data": {"name": "one"}, "mark": {"type": "bar", "color": "#ff0000", "size": 15, "yOffset": 2},
 "encoding": {
 "x": {"datum": 291.4, "type": "quantitative", "axis": null},
 "x2": {"datum": 305.8},
 "y": {"datum": 59.2324, "type": "quantitative", "axis": null}}},
{"data": {"name": "one"}, "mark": {"type": "text", "text": "59.2324", "align": "left", "baseline": "middle", "color": "#ffffff", "fontSize": 12, "yOffset": 2},
 "encoding": {
 "x": {"datum": 292.3, "type": "quantitative", "axis": null},
 "y": {"datum": 59.2324, "type": "quantitative", "axis": null}}}
]
}
]
}
